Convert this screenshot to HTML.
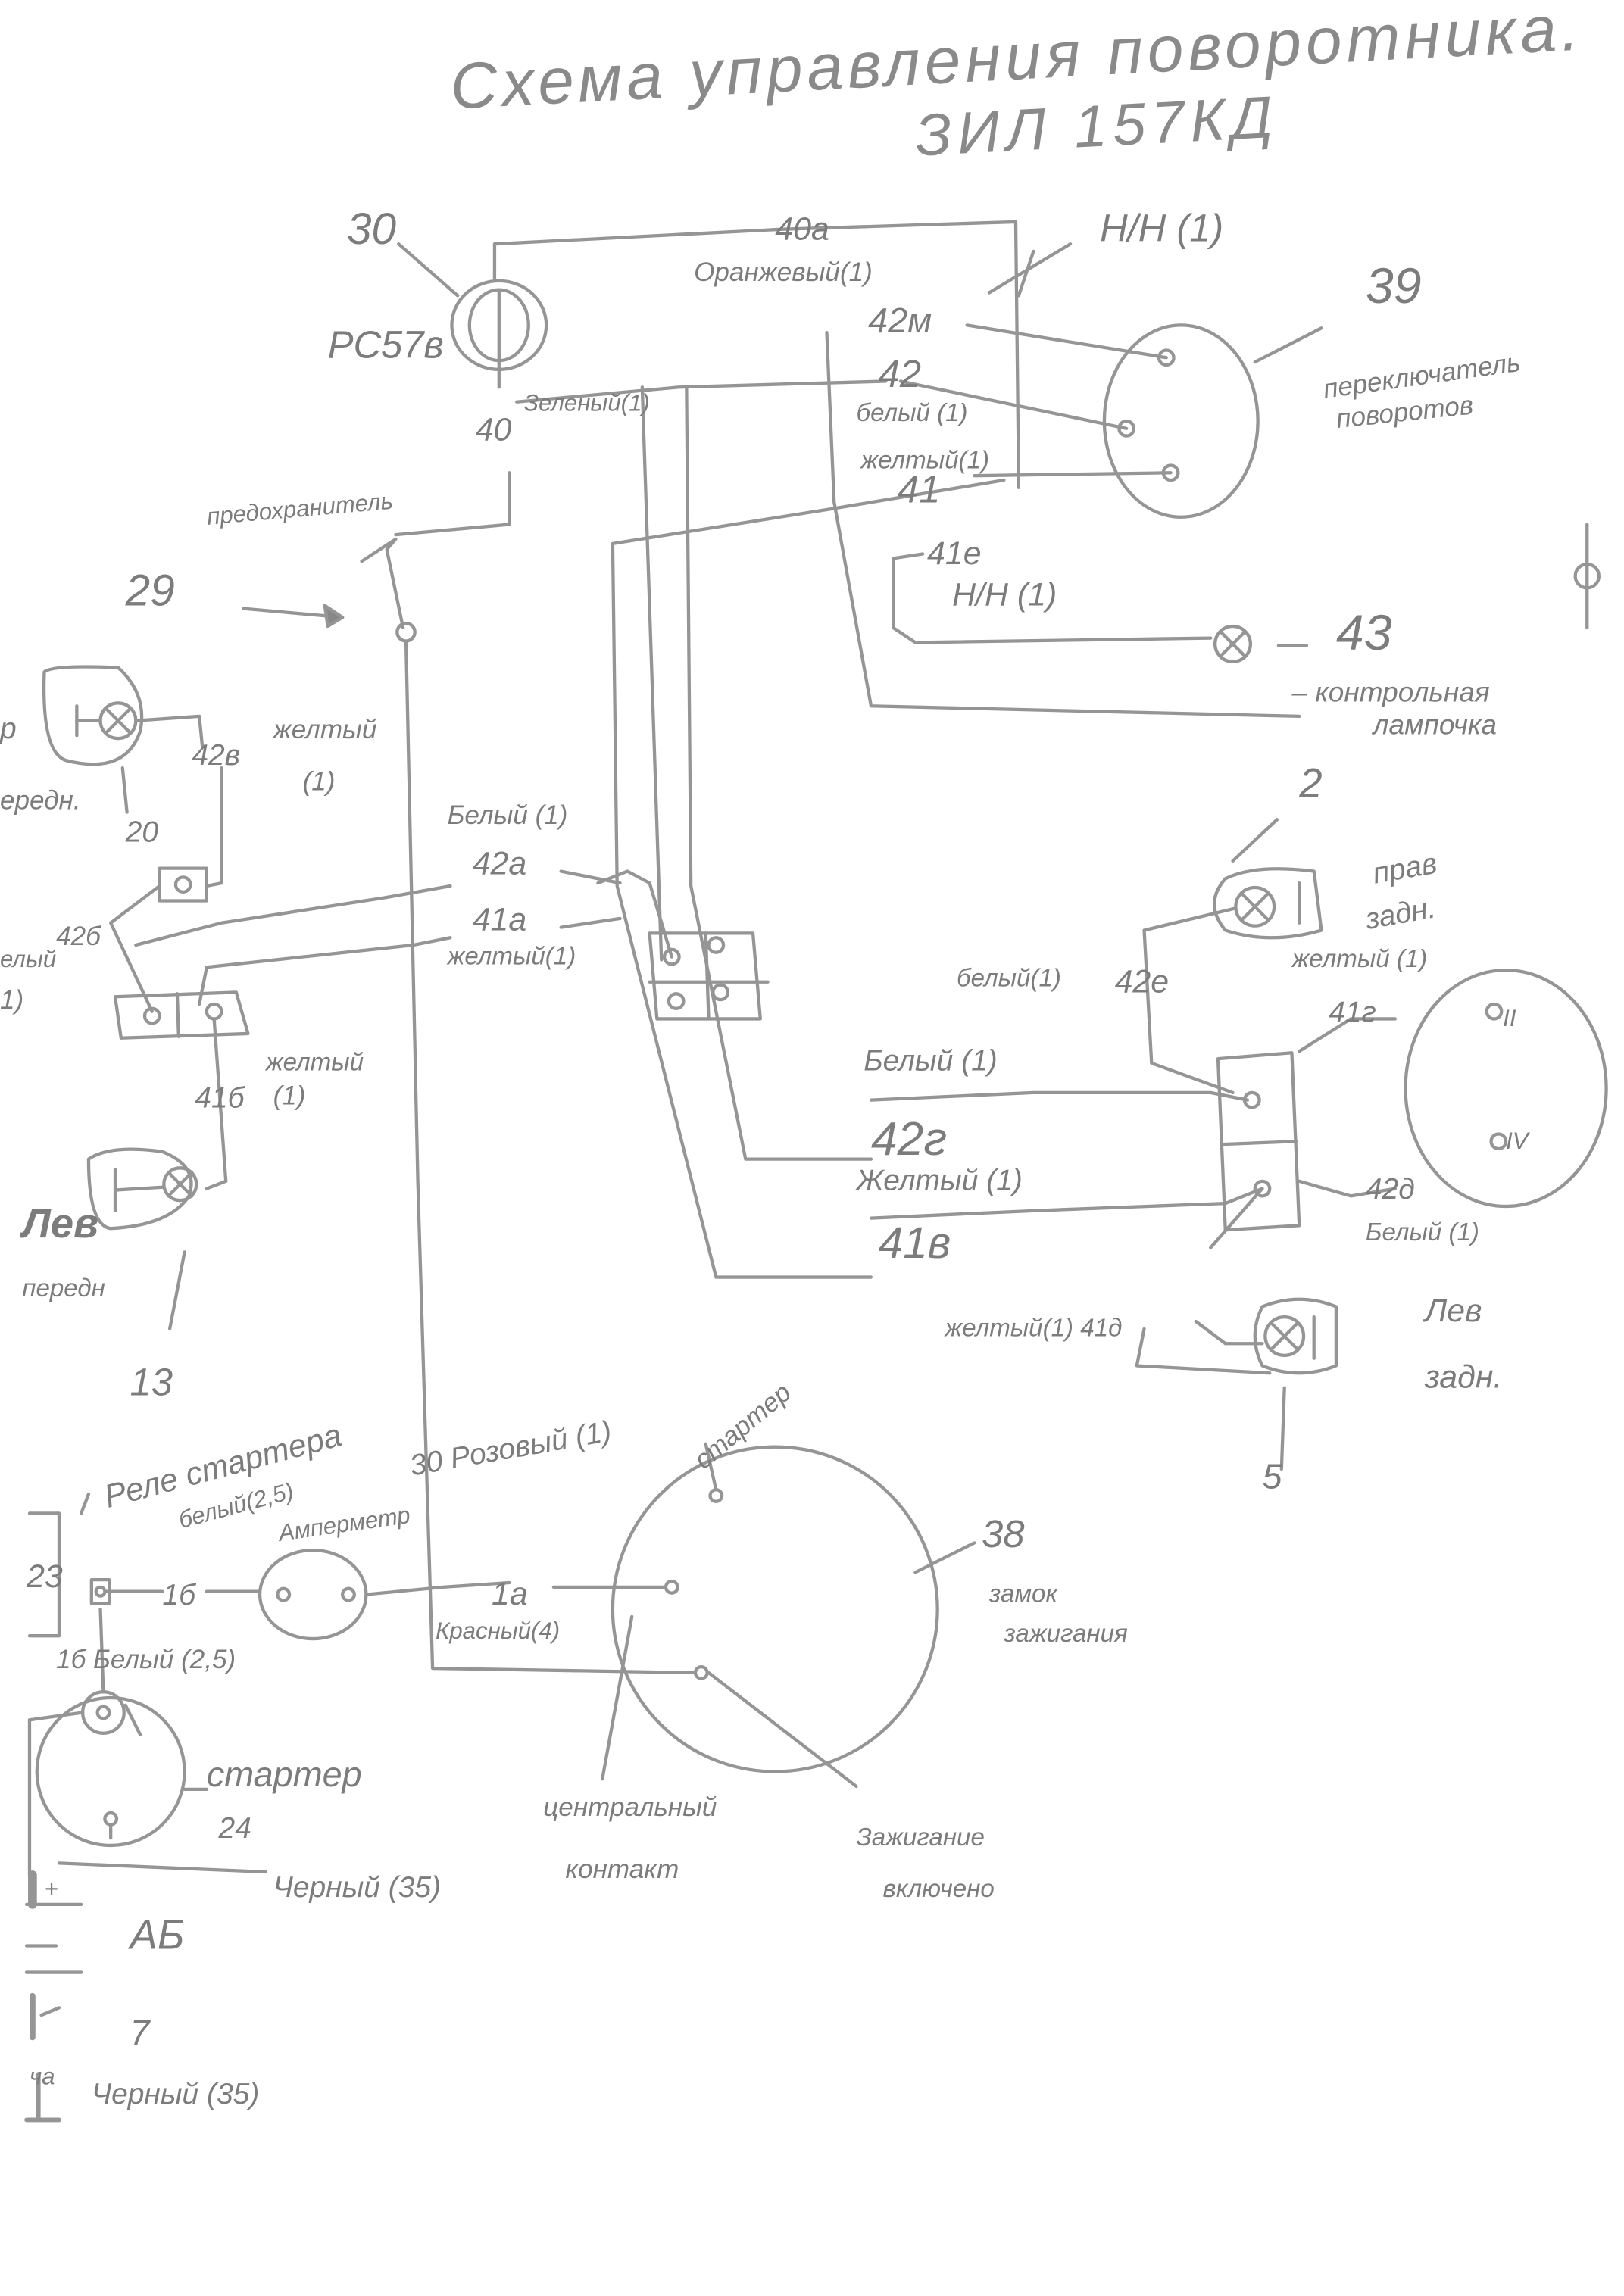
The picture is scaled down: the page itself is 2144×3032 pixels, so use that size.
<!DOCTYPE html>
<html><head><meta charset="utf-8">
<style>
html,body{margin:0;padding:0;background:#fff;}
svg{display:block;}
text{font-family:"Liberation Sans","DejaVu Sans",sans-serif;font-style:italic;fill:#7c7c7c;}
</style></head>
<body>
<svg width="2144" height="3032" viewBox="0 0 1100 1555" xmlns="http://www.w3.org/2000/svg">
<rect width="1100" height="1555" fill="#fff"/>
<g stroke="#959595" stroke-width="2.2" fill="none" stroke-linecap="round" stroke-linejoin="round">
<polyline points="335,190 335,165 530,155 688,150 690,330"/>
<ellipse cx="338" cy="220" rx="32" ry="30"/>
<ellipse cx="338" cy="220" rx="20" ry="24"/>
<line x1="338" y1="198" x2="338" y2="262"/>
<line x1="270" y1="165" x2="310" y2="200"/>
<polyline points="345,320 345,355 268,362"/>
<polyline points="245,380 268,365 262,372 273,425"/>
<circle cx="275" cy="428" r="6"/>
<line x1="165" y1="412" x2="232" y2="418"/>
<polygon points="232,418 220,410 222,424" fill="#888"/>
<polyline points="275,434 283,800 293,1130 470,1133"/>
<polyline points="350,272 460,262 600,258"/>
<line x1="435" y1="262" x2="448" y2="650"/>
<polyline points="680,325 560,345 415,368 418,600 485,865 590,865"/>
<polyline points="465,262 468,600 505,785 590,785"/>
<polyline points="560,225 565,340 590,478 880,485"/>
<line x1="655" y1="220" x2="790" y2="242"/>
<line x1="610" y1="258" x2="763" y2="290"/>
<line x1="660" y1="322" x2="793" y2="320"/>
<line x1="700" y1="170" x2="690" y2="200"/>
<line x1="725" y1="165" x2="670" y2="198"/>
<ellipse cx="800" cy="285" rx="52" ry="65"/>
<circle cx="790" cy="242" r="5"/><circle cx="763" cy="290" r="5"/><circle cx="793" cy="320" r="5"/>
<line x1="850" y1="245" x2="895" y2="222"/>
<polyline points="625,375 605,378 605,425 620,435 820,432"/>
<circle cx="835" cy="436" r="12"/>
<path d="M827 428 L843 444 M843 428 L827 444"/>
<line x1="866" y1="437" x2="885" y2="437"/>
<circle cx="1075" cy="390" r="8"/><line x1="1075" y1="355" x2="1075" y2="425"/>
<polyline points="440,632 510,632 515,690 445,690 440,632"/>
<line x1="440" y1="665" x2="520" y2="665"/><line x1="478" y1="632" x2="480" y2="690"/>
<circle cx="455" cy="648" r="5"/><circle cx="485" cy="640" r="5"/><circle cx="458" cy="678" r="5"/><circle cx="488" cy="672" r="5"/>
<polyline points="405,598 425,590 440,598 455,648"/>
<polyline points="92,640 150,625 260,608 305,600"/>
<polyline points="135,680 140,655 280,640 305,635"/>
<line x1="380" y1="590" x2="420" y2="598"/>
<line x1="380" y1="628" x2="420" y2="622"/>
<rect x="108" y="588" width="32" height="22"/><circle cx="124" cy="599" r="5"/>
<polyline points="140,600 150,598 150,520"/>
<polyline points="78,675 160,672 168,700 82,703 78,675"/>
<line x1="120" y1="673" x2="121" y2="702"/>
<circle cx="103" cy="688" r="5"/><circle cx="145" cy="685" r="5"/>
<polyline points="108,600 75,625 103,685"/>
<line x1="145" y1="690" x2="153" y2="800"/><polyline points="153,800 140,805"/>
<path d="M30,455 Q35,450 80,452 Q100,470 95,495 Q85,525 45,515 Q28,510 30,455"/>
<circle cx="80" cy="488" r="12"/><path d="M72 480 L88 496 M88 480 L72 496"/>
<line x1="52" y1="478" x2="52" y2="498"/><line x1="52" y1="488" x2="68" y2="488"/>
<polyline points="92,488 135,485 137,505"/>
<line x1="83" y1="520" x2="86" y2="550"/>
<path d="M60,785 Q75,775 110,780 Q135,790 128,810 Q115,830 75,832 Q60,830 60,785"/>
<circle cx="122" cy="802" r="11"/><path d="M114 794 L130 810 M130 794 L114 810"/>
<line x1="78" y1="792" x2="78" y2="820"/><line x1="78" y1="806" x2="111" y2="804"/>
<line x1="125" y1="848" x2="115" y2="900"/>
<path d="M830,595 Q850,585 890,590 L895,630 Q860,640 830,630 Q815,612 830,595"/>
<circle cx="850" cy="614" r="13"/><path d="M841 605 L859 623 M859 605 L841 623"/>
<line x1="880" y1="598" x2="880" y2="625"/>
<line x1="835" y1="583" x2="865" y2="555"/>
<polyline points="837,615 775,630 780,720 835,740"/>
<polyline points="825,717 875,713 880,830 830,833 825,717"/>
<line x1="828" y1="775" x2="878" y2="773"/>
<circle cx="848" cy="745" r="5"/><circle cx="855" cy="805" r="5"/>
<polyline points="880,712 915,690 945,690"/>
<polyline points="880,800 915,810 945,805"/>
<line x1="855" y1="805" x2="820" y2="845"/>
<polyline points="590,745 700,740 820,740 845,745"/>
<polyline points="590,825 700,820 830,815 855,805"/>
<polyline points="810,895 830,910 855,910"/>
<polyline points="775,900 770,925 860,930"/>
<path d="M855,885 Q880,875 905,885 L905,925 Q880,935 855,925 Q845,905 855,885"/>
<circle cx="870" cy="905" r="13"/><path d="M861 896 L879 914 M879 896 L861 914"/>
<line x1="890" y1="892" x2="890" y2="920"/>
<line x1="870" y1="940" x2="868" y2="995"/>
<ellipse cx="1020" cy="737" rx="68" ry="80"/>
<circle cx="1012" cy="685" r="5"/><circle cx="1015" cy="773" r="5"/>
<circle cx="525" cy="1090" r="110"/>
<circle cx="485" cy="1013" r="4"/><circle cx="455" cy="1075" r="4"/><circle cx="475" cy="1133" r="4"/>
<line x1="485" y1="1009" x2="478" y2="978"/>
<line x1="620" y1="1065" x2="660" y2="1045"/>
<line x1="428" y1="1095" x2="408" y2="1205"/>
<line x1="480" y1="1133" x2="580" y2="1210"/>
<polyline points="248,1080 300,1075 345,1072"/>
<line x1="375" y1="1075" x2="450" y2="1075"/>
<ellipse cx="212" cy="1080" rx="36" ry="30"/>
<circle cx="192" cy="1080" r="4"/><circle cx="236" cy="1080" r="4"/>
<line x1="72" y1="1078" x2="110" y2="1078"/><line x1="140" y1="1078" x2="176" y2="1078"/>
<polyline points="20,1025 40,1025 40,1108 20,1108"/>
<rect x="62" y="1070" width="12" height="16"/><circle cx="68" cy="1078" r="3"/>
<line x1="55" y1="1025" x2="60" y2="1012"/>
<circle cx="75" cy="1200" r="50"/>
<circle cx="70" cy="1160" r="14"/><circle cx="70" cy="1160" r="4"/>
<circle cx="75" cy="1232" r="4"/><line x1="75" y1="1236" x2="75" y2="1245"/>
<polyline points="68,1090 70,1146"/>
<polyline points="56,1160 20,1165 20,1270"/>
<polyline points="85,1155 95,1175"/>
<line x1="125" y1="1212" x2="140" y2="1212"/>
<line x1="40" y1="1262" x2="180" y2="1268"/>
<line x1="22" y1="1270" x2="22" y2="1290" stroke-width="6"/>
<line x1="18" y1="1290" x2="55" y2="1290"/>
<line x1="18" y1="1318" x2="38" y2="1318"/>
<line x1="18" y1="1336" x2="55" y2="1336"/>
<line x1="22" y1="1352" x2="22" y2="1380" stroke-width="4"/>
<line x1="28" y1="1365" x2="40" y2="1360"/>
<line x1="26" y1="1405" x2="26" y2="1435" stroke-width="3"/>
<line x1="18" y1="1436" x2="40" y2="1436" stroke-width="3"/>
</g>
<g font-size="22">
<text x="305" y="58" font-size="44" letter-spacing="3" style="fill:#8a8a8a" transform="rotate(-3 600 50)">Схема  управления  поворотника.</text>
<text x="620" y="100" font-size="40" letter-spacing="4" style="fill:#8a8a8a" transform="rotate(-3 720 90)">ЗИЛ 157КД</text>
<text x="235" y="165" font-size="30">30</text>
<text x="222" y="242" font-size="26">PC57в</text>
<text x="322" y="298" font-size="22">40</text>
<text x="355" y="278" font-size="16">Зеленый(1)</text>
<text x="525" y="162" font-size="22">40а</text>
<text x="470" y="190" font-size="18">Оранжевый(1)</text>
<text x="745" y="163" font-size="26">Н/Н (1)</text>
<text x="588" y="225" font-size="24">42м</text>
<text x="595" y="262" font-size="26">42</text>
<text x="580" y="285" font-size="17">белый (1)</text>
<text x="583" y="317" font-size="17">желтый(1)</text>
<text x="608" y="340" font-size="26">41</text>
<text x="628" y="382" font-size="22">41е</text>
<text x="645" y="410" font-size="22">Н/Н (1)</text>
<text x="925" y="205" font-size="34">39</text>
<text x="895" y="262" font-size="18" transform="rotate(-8 950 250)">переключатель</text>
<text x="905" y="285" font-size="18" transform="rotate(-6 950 280)">поворотов</text>
<text x="905" y="440" font-size="34">43</text>
<text x="875" y="475" font-size="19">– контрольная</text>
<text x="930" y="497" font-size="19">лампочка</text>
<text x="140" y="350" font-size="16" transform="rotate(-5 200 345)">предохранитель</text>
<text x="85" y="410" font-size="30">29</text>
<text x="185" y="500" font-size="18">желтый</text>
<text x="205" y="535" font-size="18">(1)</text>
<text x="130" y="518" font-size="20">42в</text>
<text x="0" y="500" font-size="20">р</text>
<text x="0" y="548" font-size="18">ередн.</text>
<text x="85" y="570" font-size="20">20</text>
<text x="38" y="640" font-size="18">42б</text>
<text x="0" y="655" font-size="16">елый</text>
<text x="0" y="683" font-size="18">1)</text>
<text x="303" y="558" font-size="18">Белый (1)</text>
<text x="320" y="592" font-size="22">42а</text>
<text x="320" y="630" font-size="22">41а</text>
<text x="303" y="653" font-size="17">желтый(1)</text>
<text x="180" y="725" font-size="17">желтый</text>
<text x="185" y="748" font-size="18">(1)</text>
<text x="132" y="750" font-size="20">41б</text>
<text x="15" y="838" font-size="28" font-weight="bold">Лев</text>
<text x="15" y="878" font-size="17">передн</text>
<text x="88" y="945" font-size="26">13</text>
<text x="880" y="540" font-size="28">2</text>
<text x="930" y="595" font-size="20" transform="rotate(-10 950 590)">прав</text>
<text x="925" y="625" font-size="20" transform="rotate(-10 950 620)">задн.</text>
<text x="648" y="668" font-size="17">белый(1)</text>
<text x="755" y="672" font-size="22">42е</text>
<text x="875" y="655" font-size="17">желтый (1)</text>
<text x="900" y="692" font-size="20">41г</text>
<text x="1018" y="695" font-size="16">II</text>
<text x="1020" y="778" font-size="16">IV</text>
<text x="925" y="812" font-size="20">42д</text>
<text x="925" y="840" font-size="17">Белый (1)</text>
<text x="585" y="725" font-size="20">Белый (1)</text>
<text x="590" y="782" font-size="32">42г</text>
<text x="580" y="806" font-size="20">Желтый (1)</text>
<text x="595" y="852" font-size="30">41в</text>
<text x="640" y="905" font-size="17">желтый(1) 41д</text>
<text x="965" y="895" font-size="22">Лев</text>
<text x="965" y="940" font-size="22">задн.</text>
<text x="855" y="1008" font-size="24">5</text>
<text x="65" y="1000" font-size="22" transform="rotate(-15 150 980)">Реле стартера</text>
<text x="120" y="1025" font-size="16" transform="rotate(-15 160 1020)">белый(2,5)</text>
<text x="188" y="1038" font-size="16" transform="rotate(-8 230 1030)">Амперметр</text>
<text x="275" y="985" font-size="20" transform="rotate(-10 360 970)">30 Розовый (1)</text>
<text x="460" y="980" font-size="18" transform="rotate(-40 490 965)">стартер</text>
<text x="665" y="1048" font-size="26">38</text>
<text x="670" y="1085" font-size="17">замок</text>
<text x="680" y="1112" font-size="17">зажигания</text>
<text x="18" y="1075" font-size="22">23</text>
<text x="110" y="1087" font-size="20">1б</text>
<text x="333" y="1087" font-size="22">1а</text>
<text x="295" y="1110" font-size="16">Красный(4)</text>
<text x="38" y="1130" font-size="18">1б Белый (2,5)</text>
<text x="140" y="1210" font-size="24">стартер</text>
<text x="148" y="1245" font-size="20">24</text>
<text x="368" y="1230" font-size="18">центральный</text>
<text x="383" y="1272" font-size="18">контакт</text>
<text x="580" y="1250" font-size="17">Зажигание</text>
<text x="598" y="1285" font-size="17">включено</text>
<text x="185" y="1285" font-size="20">Черный (35)</text>
<text x="30" y="1285" font-size="16">+</text>
<text x="88" y="1320" font-size="28">АБ</text>
<text x="88" y="1385" font-size="24">7</text>
<text x="20" y="1412" font-size="16">ча</text>
<text x="62" y="1425" font-size="20">Черный (35)</text>
</g>
</svg>
</body></html>
